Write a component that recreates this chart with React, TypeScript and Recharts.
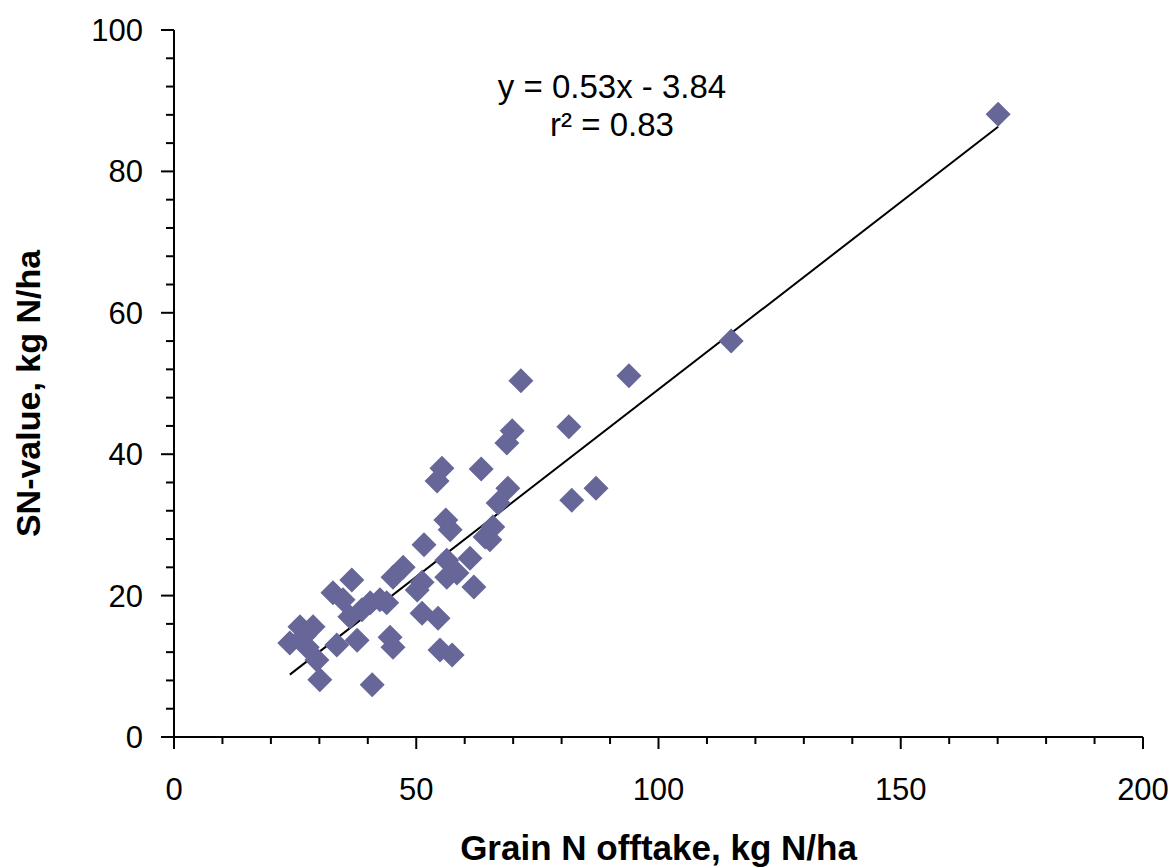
import { ScatterChart, Scatter, XAxis, YAxis, ReferenceLine } from 'recharts';

// Grain N offtake (kg N/ha) and SN-value (kg N/ha)
const grainN = [
  170.1, 115.0, 93.9, 71.6, 81.5, 69.8, 68.7, 82.1, 87.1, 68.9,
  66.9, 63.4, 55.3, 54.3, 56.1, 57.0, 65.8, 64.2, 65.2, 51.6,
  61.1, 56.3, 58.4, 56.3, 61.9, 47.3, 45.2, 51.2, 50.2, 51.2,
  54.5, 54.9, 57.4, 40.9, 36.7, 43.9, 42.5, 40.5, 44.6, 45.2,
  32.8, 34.9, 36.3, 38.8, 37.8, 33.6, 30.1, 29.5, 26.0, 28.7,
  23.9, 27.5, 27.0,
];
const snValue = [
  88.1, 56.0, 51.1, 50.4, 43.9, 43.3, 41.6, 33.5, 35.2, 35.2,
  33.1, 37.9, 38.0, 36.2, 30.7, 29.3, 29.7, 28.3, 27.9, 27.2,
  25.3, 25.0, 23.2, 22.6, 21.2, 24.0, 22.6, 21.9, 20.8, 17.5,
  16.8, 12.3, 11.6, 7.4, 22.2, 19.0, 19.4, 19.0, 14.1, 12.7,
  20.4, 19.4, 17.0, 18.0, 13.7, 13.0, 8.1, 10.9, 15.6, 15.6,
  13.3, 12.7, 14.4,
];

const xTicks = [0, 10, 20, 30, 40, 50, 60, 70, 80, 90, 100, 110, 120, 130, 140, 150, 160, 170, 180, 190, 200];
const yTicks = [0, 4, 8, 12, 16, 20, 24, 28, 32, 36, 40, 44, 48, 52, 56, 60, 64, 68, 72, 76, 80, 84, 88, 92, 96, 100];

// fitted trend line
const slope = 0.53;
const intercept = -3.84;
const equationText = 'y = 0.53x - 3.84';
const r2Text = 'r² = 0.83';

const points = grainN.map((x, i) => ({ x, y: snValue[i] }));
const xMin = Math.min(...grainN);
const xMax = Math.max(...grainN);

const FONT = '"Liberation Sans", Arial, sans-serif';

const Diamond = (props: any) => {
  const { cx, cy } = props;
  const r = 12.5;
  return (
    <polygon
      points={`${cx},${cy - r} ${cx + r},${cy} ${cx},${cy + r} ${cx - r},${cy}`}
      fill="#666699"
    />
  );
};

const YTick = ({ x, y, payload }: any) => {
  const major = payload.value % 20 === 0;
  return (
    <g>
      <line x1={x - (major ? 13 : 8)} x2={x} y1={y} y2={y} stroke="#000" strokeWidth={2} />
      {major && (
        <text x={x - 31} y={y + 11} textAnchor="end" fontSize={31} fill="#000">
          {payload.value}
        </text>
      )}
    </g>
  );
};

const XTick = ({ x, y, payload }: any) => {
  const major = payload.value % 50 === 0;
  return (
    <g>
      <line x1={x} x2={x} y1={y} y2={y + (major ? 12 : 7)} stroke="#000" strokeWidth={2} />
      {major && (
        <text x={x} y={y + 63} textAnchor="middle" fontSize={31} fill="#000">
          {payload.value}
        </text>
      )}
    </g>
  );
};

const YLabel = ({ viewBox }: any) => {
  const cx = viewBox.x + 40;
  const cy = viewBox.y + viewBox.height / 2 + 10;
  return (
    <text
      x={cx}
      y={cy}
      transform={`rotate(-90 ${cx} ${cy})`}
      textAnchor="middle"
      fontSize={34}
      fontWeight="bold"
      fill="#000"
    >
      SN-value, kg N/ha
    </text>
  );
};

export default function App() {
  return (
    <div style={{ position: 'absolute', left: 0, top: 0, width: 1175, height: 868, fontFamily: FONT, background: '#fff' }}>
      <ScatterChart width={1175} height={868} margin={{ top: 30, right: 32, bottom: 0, left: 0 }}>
        <XAxis
          type="number"
          dataKey="x"
          domain={[0, 200]}
          ticks={xTicks}
          interval={0}
          height={131}
          tickSize={0}
          tickMargin={0}
          tick={XTick}
          axisLine={{ stroke: '#000', strokeWidth: 2 }}
          label={{
            value: 'Grain N offtake, kg N/ha',
            position: 'insideBottom',
            offset: 8,
            fontSize: 35,
            fontWeight: 'bold',
            fill: '#000',
          }}
        />
        <YAxis
          type="number"
          dataKey="y"
          domain={[0, 100]}
          ticks={yTicks}
          interval={0}
          width={174}
          tickSize={0}
          tickMargin={0}
          tick={YTick}
          axisLine={{ stroke: '#000', strokeWidth: 2 }}
          label={{ content: YLabel }}
        />
        <Scatter data={points} shape={Diamond} isAnimationActive={false} />
        <ReferenceLine
          segment={[
            { x: xMin, y: slope * xMin + intercept },
            { x: xMax, y: slope * xMax + intercept },
          ]}
          stroke="#000"
          strokeWidth={2}
          ifOverflow="visible"
        />
      </ScatterChart>
      <svg
        width={1175}
        height={868}
        style={{ position: 'absolute', left: 0, top: 0, pointerEvents: 'none' }}
      >
        <text x={612} y={98} textAnchor="middle" fontSize={33} fill="#000">
          {equationText}
        </text>
        <text x={612} y={136} textAnchor="middle" fontSize={33} fill="#000">
          {r2Text}
        </text>
      </svg>
    </div>
  );
}
